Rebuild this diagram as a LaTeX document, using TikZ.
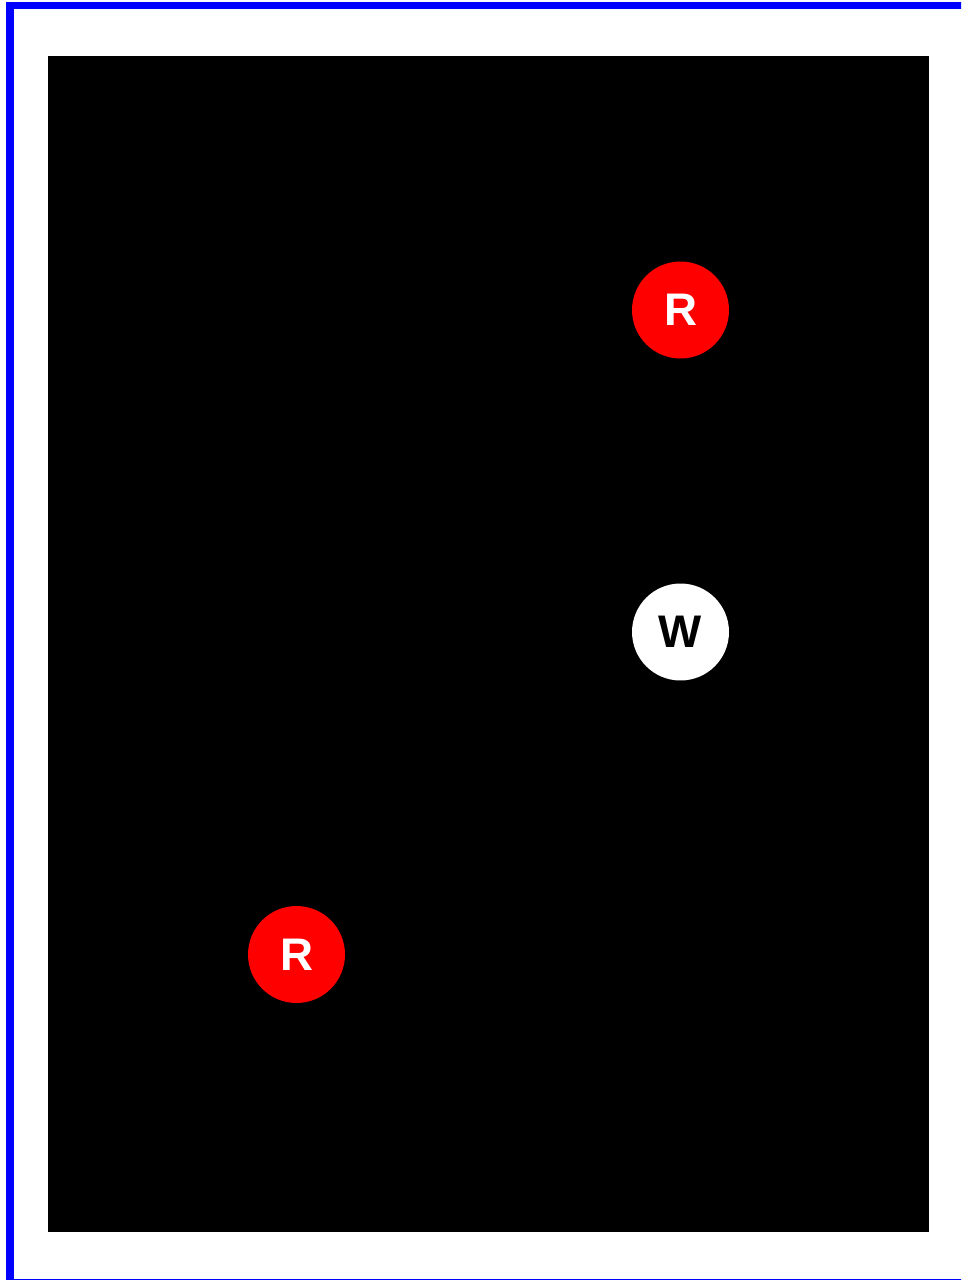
\documentclass[tikz,border=0pt]{standalone}
\usepackage{fontspec}
\setmainfont{Liberation Sans}
\tikzset{
  token/.style={circle, minimum size=1.94cm, inner sep=0pt,
    font=\bfseries\fontsize{26}{26}\selectfont}
}
\begin{document}
\begin{tikzpicture}[x=0.02cm, y=-0.02cm]
    % Define corners
    \coordinate (TL) at (48, 56);
    \coordinate (BR) at (929, 1232);

    % Page and frame
    \clip (0, 0) rectangle (961, 1280);
    \fill[white] (0, 0) rectangle (961, 1280);
    \draw[blue, line width=0.15cm] (10, 5.5) rectangle (968, 1282.5);

    % Black board
    \fill[black] (TL) rectangle (BR);

    % Tokens
    \node[token, fill=red, text=white] (rtop) at (680.5, 310) {R};
    \node[token, fill=white, text=black] (wmid) at (680.5, 632) {W};
    \node[token, fill=red, text=white] (rbot) at (296.5, 954.5) {R};

\end{tikzpicture}
\end{document}
